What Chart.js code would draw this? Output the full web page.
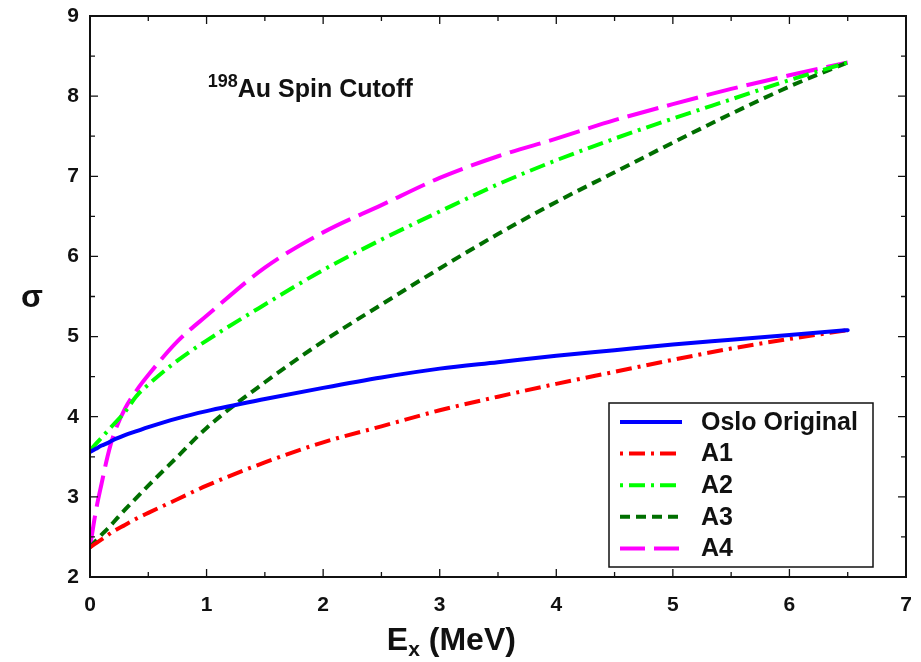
<!DOCTYPE html>
<html>
<head>
<meta charset="utf-8">
<script src="https://cdn.jsdelivr.net/npm/chart.js@4/dist/chart.umd.min.js"></script>
<style>
html, body { margin: 0; padding: 0; background: #fff; }
#wrap { width: 921px; height: 662px; position: relative; }
</style>
</head>
<body>
<div id="wrap"><canvas id="spinChart"></canvas></div>
<script>
// excitation energy (MeV), finer near zero where A4 rises fast
const energies     = [0, 0.05, 0.1, 0.15, 0.2, 0.3, 0.4, 0.5, 0.75, 1, 1.5, 2, 2.5, 3, 3.5, 4, 4.5, 5, 5.5, 6, 6.5];
const osloOriginal = [3.56, 3.60, 3.64, 3.67, 3.71, 3.77, 3.82, 3.87, 3.98, 4.07, 4.22, 4.36, 4.49, 4.60, 4.68, 4.76, 4.83, 4.90, 4.96, 5.02, 5.08];
const a1           = [2.37, 2.42, 2.47, 2.52, 2.57, 2.65, 2.73, 2.80, 2.97, 3.14, 3.43, 3.68, 3.88, 4.08, 4.25, 4.41, 4.56, 4.71, 4.85, 4.97, 5.08];
const a2           = [3.58, 3.66, 3.74, 3.82, 3.90, 4.06, 4.26, 4.40, 4.70, 4.95, 5.40, 5.83, 6.21, 6.56, 6.90, 7.20, 7.47, 7.72, 7.96, 8.20, 8.42];
const a3           = [2.37, 2.45, 2.53, 2.60, 2.68, 2.84, 2.99, 3.14, 3.50, 3.86, 4.43, 4.94, 5.40, 5.85, 6.28, 6.68, 7.05, 7.42, 7.78, 8.12, 8.42];
const a4           = [2.37, 2.82, 3.17, 3.50, 3.76, 4.10, 4.33, 4.52, 4.94, 5.26, 5.86, 6.30, 6.64, 6.98, 7.25, 7.47, 7.70, 7.90, 8.09, 8.26, 8.42];

const xTicks = [0, 1, 2, 3, 4, 5, 6, 7];
const yTicks = [2, 3, 4, 5, 6, 7, 8, 9];

const FONT = "'Liberation Sans', Arial, sans-serif";

function pts(values) {
    return energies.map((e, i) => ({ x: e, y: values[i] }));
}

const series = [
    { label: "Oslo Original", data: osloOriginal, color: "#0000FF", dash: [] },
    { label: "A1", data: a1, color: "#FF0000", dash: [16, 6, 3, 6] },
    { label: "A2", data: a2, color: "#00FF00", dash: [16, 6, 3, 6] },
    { label: "A3", data: a3, color: "#006F00", dash: [10, 6] },
    { label: "A4", data: a4, color: "#FF00FF", dash: [32, 9] }
];

// frame, inward ticks, annotations and the boxed legend
const decorPlugin = {
    id: "decor",
    afterDraw(chart) {
        const { ctx, chartArea: a, scales } = chart;
        const x = scales.x, y = scales.y;
        ctx.save();

        ctx.strokeStyle = "#111";
        ctx.lineWidth = 2;
        ctx.strokeRect(a.left, a.top, a.right - a.left, a.bottom - a.top);

        ctx.lineWidth = 1.3;
        ctx.beginPath();
        for (let v = 0.5; v < 7; v += 0.5) {
            const px = x.getPixelForValue(v);
            const len = v % 1 === 0 ? 8 : 5;
            ctx.moveTo(px, a.bottom); ctx.lineTo(px, a.bottom - len);
            ctx.moveTo(px, a.top); ctx.lineTo(px, a.top + len);
        }
        for (let v = 2.5; v < 9; v += 0.5) {
            const py = y.getPixelForValue(v);
            const len = v % 1 === 0 ? 8 : 5;
            ctx.moveTo(a.left, py); ctx.lineTo(a.left + len, py);
            ctx.moveTo(a.right, py); ctx.lineTo(a.right - len, py);
        }
        ctx.stroke();

        ctx.fillStyle = "#111";
        ctx.textBaseline = "alphabetic";

        // 198Au Spin Cutoff
        let tx = x.getPixelForValue(1.01);
        const ty = y.getPixelForValue(7.99);
        ctx.font = "bold 18px " + FONT;
        ctx.textAlign = "left";
        ctx.fillText("198", tx, ty - 10);
        tx += ctx.measureText("198").width;
        ctx.font = "bold 25px " + FONT;
        ctx.fillText("Au Spin Cutoff", tx, ty);

        // sigma
        ctx.font = "bold 32px " + FONT;
        ctx.textAlign = "center";
        ctx.fillText("σ", 32, y.getPixelForValue(5.5) + 10);

        // E_x (MeV)
        ctx.font = "bold 32px " + FONT;
        const wE = ctx.measureText("E").width;
        const wRest = ctx.measureText(" (MeV)").width;
        ctx.font = "bold 21px " + FONT;
        const wx = ctx.measureText("x").width;
        let sx = x.getPixelForValue(3.1) - (wE + wx + wRest) / 2;
        const sy = 650;
        ctx.textAlign = "left";
        ctx.font = "bold 32px " + FONT;
        ctx.fillText("E", sx, sy);
        sx += wE;
        ctx.font = "bold 21px " + FONT;
        ctx.fillText("x", sx, sy + 6);
        sx += wx;
        ctx.font = "bold 32px " + FONT;
        ctx.fillText(" (MeV)", sx, sy);

        // legend box
        const bx = a.right - 297, by = a.bottom - 174, bw = 264, bh = 164;
        ctx.fillStyle = "#fff";
        ctx.fillRect(bx, by, bw, bh);
        ctx.strokeStyle = "#111";
        ctx.lineWidth = 1.5;
        ctx.strokeRect(bx, by, bw, bh);
        ctx.font = "bold 25px " + FONT;
        series.forEach((s, i) => {
            const ly = by + 19 + i * 31.6;
            ctx.beginPath();
            ctx.setLineDash(s.dash.length ? [s.dash[1] > 6 && s.dash.length === 2 ? 25 : s.dash[0], s.dash[1]].concat(s.dash.slice(2)) : []);
            ctx.lineDashOffset = s.dash.length === 4 ? s.dash[0] + s.dash[1] : 0;
            ctx.strokeStyle = s.color;
            ctx.lineWidth = 4;
            ctx.moveTo(bx + 11, ly);
            ctx.lineTo(bx + 73, ly);
            ctx.stroke();
            ctx.setLineDash([]);
            ctx.fillStyle = "#111";
            ctx.textAlign = "left";
            ctx.textBaseline = "middle";
            ctx.fillText(s.label, bx + 92, ly + 1);
        });

        ctx.restore();
    }
};

const tickFont = { family: FONT, size: 21, weight: "bold" };

// pin the axis boxes so the plot frame lands where the original has it
function pinBox(s, size) {
    if (s.isHorizontal()) s.height = size; else s.width = size;
    s.paddingTop = 0; s.paddingBottom = 0; s.paddingLeft = 0; s.paddingRight = 0;
}

new Chart(document.getElementById("spinChart"), {
    type: "scatter",
    data: {
        datasets: series.map(s => ({
            label: s.label,
            data: pts(s.data),
            showLine: true,
            borderColor: s.color,
            backgroundColor: s.color,
            borderWidth: 4,
            borderDash: s.dash,
            borderCapStyle: s.dash.length ? "butt" : "round",
            cubicInterpolationMode: "monotone",
            pointRadius: 0
        }))
    },
    options: {
        responsive: true,
        maintainAspectRatio: false,
        animation: false,
        layout: { padding: { left: 0, top: 16, right: 15, bottom: 0 } },
        plugins: {
            legend: { display: false },
            tooltip: { enabled: false }
        },
        scales: {
            x: {
                type: "linear",
                min: 0,
                max: 7,
                afterBuildTicks: s => { s.ticks = xTicks.map(v => ({ value: v })); },
                afterFit: s => pinBox(s, 85),
                ticks: { color: "#111", font: tickFont, padding: 16, maxRotation: 0 },
                grid: { display: false, drawTicks: false },
                border: { display: false }
            },
            y: {
                type: "linear",
                min: 2,
                max: 9,
                afterBuildTicks: s => { s.ticks = yTicks.map(v => ({ value: v })); },
                afterFit: s => pinBox(s, 90),
                ticks: { color: "#111", font: tickFont, padding: 11 },
                grid: { display: false, drawTicks: false },
                border: { display: false }
            }
        }
    },
    plugins: [decorPlugin]
});
</script>
</body>
</html>
